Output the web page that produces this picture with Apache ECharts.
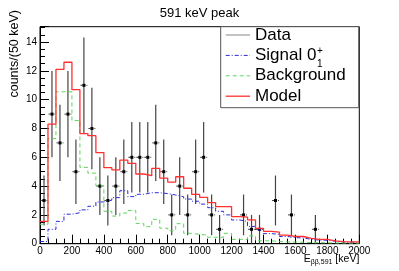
<!DOCTYPE html>
<html><head><meta charset="utf-8">
<script src="https://cdn.jsdelivr.net/npm/echarts@6/dist/echarts.min.js"></script>
<style>html,body{margin:0;padding:0;background:#fff}#c{width:399px;height:271px}</style>
</head><body><div id="c"></div>
<script>
// bin low edges (keV), 50 keV bins
const binLow = [0,50,100,150,200,250,300,350,400,450,500,550,600,650,700,750,800,850,900,950,
  1000,1050,1100,1150,1200,1250,1300,1350,1400,1450,1500,1550,1600,1650,1700,1750,1800,1850,1900,1950];
const binWidth = 50;
const xMax = 2000;
const yMax = 15.07;
// observed counts per bin
const dataCounts = [3,9,7,9,5,11,8,4,3,4, 5,6,6,6,7,5,2,4,2,5, 6,2,1,0,0,2,1,1,0,3, 0,2,0,0,1,0,0,0,0,0];
// fitted components
const signal = [0.15,1.0,1.55,2.05,2.15,2.35,2.6,2.9,3.03,3.2, 3.68,3.27,3.43,3.54,3.54,3.48,3.38,3.26,3.1,2.95,
  2.75,2.5,2.25,2.0,1.65,1.55,1.2,0.95,0.7,0.65, 0.5,0.42,0.4,0.3,0.25,0.24,0.17,0.12,0.1,0.1];
const background = [1.35,7.3,10.55,10.55,8.55,5.3,4.9,4.03,2.25,1.92, 2.13,2.31,1.41,1.18,1.69,1.08,0.9,1.39,0.72,0.65,
  0.6,0.45,0.45,0.72,0.3,0.3,0.55,0.2,0.2,0.15, 0.12,0.12,0.1,0.08,0.07,0.06,0.05,0.05,0.04,0.04];
const model = [1.55,8.3,12.1,12.6,10.7,7.65,7.5,6.33,5.28,5.12, 5.81,5.58,4.84,4.72,5.23,4.56,4.28,4.65,3.85,3.42,
  3.22,2.85,2.57,2.57,1.88,1.85,1.65,1.07,0.85,0.8, 0.6,0.5,0.5,0.37,0.3,0.3,0.2,0.15,0.13,0.13];
const legendLabels = ['Data','Signal 0','Background','Model'];

const FONT = 'Liberation Sans, Arial, Helvetica, sans-serif';

function stepData(vals){
  const d = binLow.map((x,i)=>[x, vals[i]]);
  d.push([xMax, vals[vals.length-1]]);
  return d;
}
const pts = [];
binLow.forEach((x,i)=>{ if(dataCounts[i]>0) pts.push([x+binWidth/2, dataCounts[i]]); });

const chart = echarts.init(document.getElementById('c'), null, {renderer:'canvas'});
const legX0 = 225.7, legX1 = 250, legTx = 255;
const legY = [35, 55.4, 75.8, 96.2];
const txt = (o)=>Object.assign({fontFamily:FONT, fill:'#000'}, o);
chart.setOption({
  animation:false,
  backgroundColor:'#fff',
  title:{text:'591 keV peak', left:'center', top:2,
    textStyle:{fontFamily:FONT, fontSize:13, fontWeight:'normal', color:'#000'}},
  grid:{left:40, right:39.7, top:26.7, bottom:27.3, show:true, borderColor:'#000', borderWidth:1, backgroundColor:'transparent'},
  xAxis:{type:'value', min:0, max:xMax, interval:200,
    axisLine:{show:true, lineStyle:{color:'#000', width:1}},
    axisTick:{show:true, inside:true, length:9, lineStyle:{color:'#000'}},
    minorTick:{show:true, splitNumber:4, length:5, lineStyle:{color:'#000'}},
    splitLine:{show:false},
    axisLabel:{fontFamily:FONT, fontSize:10, color:'#000', margin:3, formatter:(v)=>String(v)}
  },
  yAxis:{type:'value', min:0, max:yMax, interval:2,
    axisLine:{show:true, lineStyle:{color:'#000', width:1}},
    axisTick:{show:true, inside:true, length:9, lineStyle:{color:'#000'}},
    minorTick:{show:true, splitNumber:4, length:5, lineStyle:{color:'#000'}},
    splitLine:{show:false},
    axisLabel:{fontFamily:FONT, fontSize:10, color:'#000', margin:3, showMaxLabel:false, formatter:(v)=>String(v)}
  },
  series:[
    {name:'Data', type:'custom', data:pts, z:3,
     renderItem:function(params, api){
       const x = api.value(0), v = api.value(1), e = Math.sqrt(v);
       const c = api.coord([x, v]);
       const t = api.coord([x, v+e]);
       const b = api.coord([x, Math.max(v-e,0)]);
       const l = api.coord([x-binWidth/2, v]);
       const r = api.coord([x+binWidth/2, v]);
       return {type:'group', children:[
         {type:'line', shape:{x1:c[0], y1:t[1], x2:c[0], y2:b[1]}, style:{stroke:'#444', lineWidth:1.2}},
         {type:'line', shape:{x1:l[0]+0.5, y1:c[1], x2:r[0]-0.5, y2:c[1]}, style:{stroke:'#444', lineWidth:1, lineDash:[2,1]}},
         {type:'rect', shape:{x:c[0]-1.5, y:c[1]-1.5, width:3, height:3}, style:{fill:'#000'}}
       ]};
     }},
    {name:'Signal', type:'line', step:'end', data:stepData(signal), symbol:'none', z:4,
     lineStyle:{color:'#2a2ad8', width:1, type:[4,2,1,2]}},
    {name:'Background', type:'line', step:'end', data:stepData(background), symbol:'none', z:4,
     lineStyle:{color:'#5cd65c', width:1, type:[4,3]}},
    {name:'Model', type:'line', step:'end', data:stepData(model), symbol:'none', z:5,
     lineStyle:{color:'#ff3030', width:1.3}}
  ],
  graphic:[
    {type:'text', x:15, y:10, rotation:Math.PI/2, z:10,
     style:txt({text:'counts/(50 keV)', fontSize:12.5, align:'right', textAlign:'right', verticalAlign:'middle', textVerticalAlign:'middle'})},
    {type:'text', x:359.3, y:259.5, z:10,
     style:txt({text:'{e|E}{s|ββ,591}{u| [keV]}', fontSize:10, align:'right', textAlign:'right', verticalAlign:'middle', textVerticalAlign:'middle',
       rich:{e:{fontFamily:FONT, fontSize:10.5, fill:'#000', color:'#000'},
             s:{fontFamily:FONT, fontSize:7, fill:'#000', color:'#000', padding:[6,0,0,0]},
             u:{fontFamily:FONT, fontSize:10.5, fill:'#000', color:'#000'}}})},
    {type:'rect', shape:{x:220.7, y:26.7, width:138, height:81}, z:20,
     style:{fill:'#fff', stroke:'#555', lineWidth:1}},
    {type:'line', shape:{x1:legX0, y1:legY[0], x2:legX1, y2:legY[0]}, z:21, style:{stroke:'#888', lineWidth:1}},
    {type:'line', shape:{x1:legX0, y1:legY[1], x2:legX1, y2:legY[1]}, z:21, style:{stroke:'#2a2ad8', lineWidth:1, lineDash:[4,2,1,2]}},
    {type:'line', shape:{x1:legX0, y1:legY[2], x2:legX1, y2:legY[2]}, z:21, style:{stroke:'#5cd65c', lineWidth:1, lineDash:[4,3]}},
    {type:'line', shape:{x1:legX0, y1:legY[3], x2:legX1, y2:legY[3]}, z:21, style:{stroke:'#ff3030', lineWidth:1.3}},
    {type:'text', x:legTx, y:legY[0], z:21, style:txt({text:legendLabels[0], fontSize:17, verticalAlign:'middle', textVerticalAlign:'middle'})},
    {type:'text', x:legTx, y:legY[1], z:21, style:txt({text:legendLabels[1], fontSize:17, verticalAlign:'middle', textVerticalAlign:'middle'})},
    {type:'text', x:317, y:51.5, z:21, style:txt({text:'+', fontSize:10, verticalAlign:'middle', textVerticalAlign:'middle'})},
    {type:'text', x:317, y:64, z:21, style:txt({text:'1', fontSize:10, verticalAlign:'middle', textVerticalAlign:'middle'})},
    {type:'text', x:legTx, y:legY[2], z:21, style:txt({text:legendLabels[2], fontSize:17, verticalAlign:'middle', textVerticalAlign:'middle'})},
    {type:'text', x:legTx, y:legY[3], z:21, style:txt({text:legendLabels[3], fontSize:17, verticalAlign:'middle', textVerticalAlign:'middle'})}
  ]
});
</script></body></html>
